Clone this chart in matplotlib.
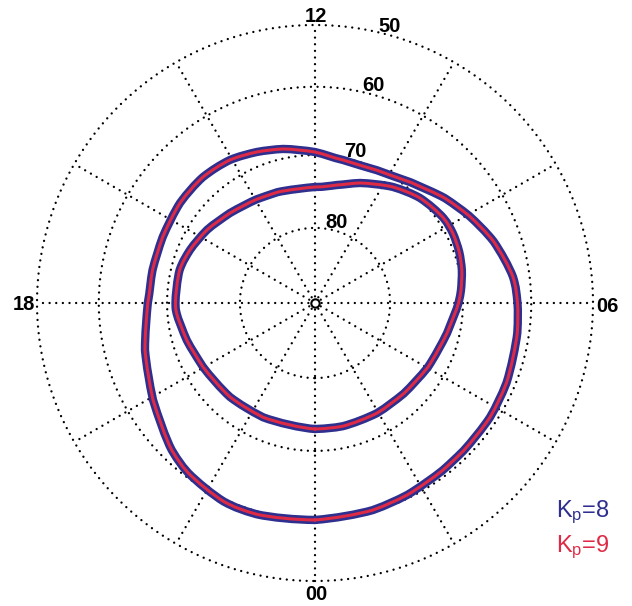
import numpy as np
import matplotlib
matplotlib.use("Agg")
import matplotlib.pyplot as plt
from matplotlib.path import Path
from matplotlib.patches import PathPatch

# ---- oval boundaries: magnetic local time (h) and magnetic latitude (deg) ----
# equatorward boundary
mlt_eq = [0.0, 1.04, 1.71, 2.49, 3.01, 3.79, 4.49, 5.44, 6.0, 6.5, 7.27, 7.97,
          8.59, 9.44, 10.33, 11.26, 12.0, 12.78, 13.40, 14.05, 14.78, 15.56,
          16.44, 17.23, 18.0, 19.03, 20.06, 21.05, 21.55, 22.36, 22.97]
lat_eq_kp8 = [59.89, 60.19, 60.50, 60.88, 61.03, 61.10, 61.33, 61.78, 62.08, 62.50,
              64.10, 65.84, 67.29, 69.14, 70.20, 70.31, 69.57, 68.67, 68.03, 67.37,
              67.06, 67.14, 67.43, 67.46, 67.26, 65.93, 64.12, 61.66, 60.65, 59.65,
              59.55]
lat_eq_kp9 = [59.89, 60.19, 60.50, 60.88, 61.03, 61.10, 61.33, 61.78, 62.08, 62.50,
              64.10, 65.84, 67.29, 69.14, 70.20, 70.31, 69.57, 68.67, 68.03, 67.37,
              67.06, 67.14, 67.43, 67.46, 67.26, 65.93, 64.12, 61.66, 60.65, 59.65,
              59.55]

# poleward boundary
mlt_pole = [0.0, 0.85, 1.96, 2.96, 4.02, 5.15, 6.0, 6.33, 6.84, 7.30, 7.79, 8.24,
            9.0, 9.74, 10.63, 11.30, 12.0, 13.26, 13.96, 14.89, 15.73, 16.47,
            17.08, 18.0, 18.28, 19.08, 19.98, 21.19, 22.37]
lat_pole_kp8 = [73.06, 73.02, 73.01, 72.95, 72.53, 71.74, 70.62, 70.20, 69.64, 69.28,
                69.07, 69.14, 69.92, 71.14, 72.76, 73.89, 74.44, 74.30, 74.03, 73.37,
                72.45, 71.70, 71.21, 71.18, 71.28, 72.02, 72.65, 72.96, 73.13]
lat_pole_kp9 = [73.06, 73.02, 73.01, 72.95, 72.53, 71.74, 70.62, 70.20, 69.64, 69.28,
                69.07, 69.14, 69.92, 71.14, 72.76, 73.89, 74.44, 74.30, 74.03, 73.37,
                72.45, 71.70, 71.21, 71.18, 71.28, 72.02, 72.65, 72.96, 73.13]

ring_lats = [80, 70, 60, 50]
hour_labels = ["00", "06", "12", "18"]
legend_labels = [r"K$_\mathrm{p}$=8", r"K$_\mathrm{p}$=9"]

BLUE = "#2E2F8E"
RED = "#DE2A45"

plt.rcParams["font.family"] = ["Liberation Sans", "DejaVu Sans"]
plt.rcParams["mathtext.fontset"] = "custom"
plt.rcParams["mathtext.rm"] = "Liberation Sans"
plt.rcParams["mathtext.it"] = "Liberation Sans:italic"

W, H = 632, 606
fig = plt.figure(figsize=(W / 100, H / 100), dpi=100)
fig.patch.set_facecolor("white")

cx, cy, R = 315, 303, 278   # pole position and outer radius (pixels)
ax = fig.add_axes([(cx - R) / W, (H - cy - R) / H, 2 * R / W, 2 * R / H],
                  projection="polar")
ax.set_theta_zero_location("S")
ax.set_theta_direction(1)


def to_r(lat):
    return np.cos(np.radians(np.asarray(lat, dtype=float)))


def to_t(mlt):
    return np.asarray(mlt, dtype=float) * np.pi / 12.0


ax.set_ylim(0, to_r(50))
ax.set_axis_off()

# dotted latitude circles and MLT spokes
dot = dict(color="black", lw=1.7, linestyle=(0, (0.01, 2.8)),
           dash_capstyle="round", clip_on=False, zorder=1)
tt = np.linspace(0, 2 * np.pi, 721)
for lat in ring_lats:
    ax.plot(tt, np.full_like(tt, to_r(lat)), **dot)
for h in range(0, 24, 2):
    ax.plot([to_t(h), to_t(h)], [0, to_r(50)], **dot)

# pole marker
ax.plot([0], [0], marker="o", ms=6, mfc="white", mec="black", mew=1.5,
        zorder=5, clip_on=False)

# latitude labels along the 11 MLT meridian
for lat in ring_lats:
    ax.annotate(str(lat), xy=(to_t(11), to_r(lat)), xytext=(1.6, 6.0),
                textcoords="offset points", ha="center", va="center",
                fontsize=14.5, fontweight="bold", zorder=6)


def smooth_loop(mlt, lat):
    """Closed cubic-Bezier path (Catmull-Rom tangents) through the given points."""
    t = to_t(mlt)
    r = to_r(lat)
    n = len(t)
    te = np.concatenate([[t[-1] - 2 * np.pi], t, t[:2] + 2 * np.pi])
    re = np.concatenate([[r[-1]], r, r[:2]])
    pts = np.column_stack([te, re])
    verts = [pts[1]]
    codes = [Path.MOVETO]
    for i in range(1, n + 1):
        p0, p1, p2, p3 = pts[i - 1], pts[i], pts[i + 1], pts[i + 2]
        c1 = p1 + (p2 - p0) / 6.0
        c2 = p2 - (p3 - p1) / 6.0
        verts += [c1, c2, p2]
        codes += [Path.CURVE4] * 3
    return Path(np.array(verts), codes)


def draw_loop(mlt, lat, color, lw, z):
    patch = PathPatch(smooth_loop(mlt, lat), transform=ax.transData,
                      facecolor="none", edgecolor=color, lw=lw,
                      joinstyle="round", capstyle="round", zorder=z,
                      clip_on=False)
    ax.add_patch(patch)


# Kp=8 (blue, wide) under Kp=9 (red, narrow)
draw_loop(mlt_eq, lat_eq_kp8, BLUE, 6.0, 3)
draw_loop(mlt_pole, lat_pole_kp8, BLUE, 6.0, 3)
draw_loop(mlt_eq, lat_eq_kp9, RED, 2.2, 4)
draw_loop(mlt_pole, lat_pole_kp9, RED, 2.2, 4)

# MLT labels around the dial
hour_pos = {"12": (316, 17), "18": (24, 305), "06": (607, 307), "00": (316, 595)}
for lab in hour_labels:
    x, y = hour_pos[lab]
    fig.text(x / W, 1 - y / H, lab, ha="center", va="center",
             fontsize=14.5, fontweight="bold")

# Kp legend
fig.text(556 / W, 1 - 517 / H, legend_labels[0], color=BLUE, fontsize=17,
         ha="left", va="baseline")
fig.text(556 / W, 1 - 552 / H, legend_labels[1], color=RED, fontsize=17,
         ha="left", va="baseline")

fig.savefig("out.png", dpi=100, facecolor="white")
